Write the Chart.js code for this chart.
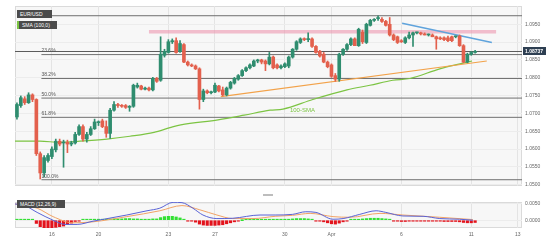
<!DOCTYPE html>
<html>
<head>
<meta charset="utf-8">
<script src="https://cdn.jsdelivr.net/npm/chart.js@4.4.0/dist/chart.umd.min.js"></script>
<style>
    html, body { margin: 0; padding: 0; background: #fff; }
    #wrap { position: relative; width: 548px; height: 245px; overflow: hidden; font-family: "Liberation Sans", Arial, sans-serif; }
    #main { position: absolute; left: 0; top: 0; }
    #macd { position: absolute; left: 0; top: 196px; }
    .tag { position: absolute; left: 17px; height: 8px; line-height: 8px; background: #4b4b4b; color: #fff; font-size: 5px; padding: 0 3px; box-sizing: border-box; }
    .handle { position: absolute; left: 263px; top: 194px; width: 10px; height: 2px; background: #bdbdbd; }
</style>
</head>
<body>
<div id="wrap">
    <canvas id="main" width="548" height="192"></canvas>
    <canvas id="macd" width="548" height="49"></canvas>
    <div class="tag" style="top:10px;width:35px;">EUR/USD</div>
    <div class="tag" style="top:21px;width:40px;border-left:2px solid #7cc443;">SMA (100,0)</div>
    <div class="handle"></div>
    <div class="tag" style="top:200px;width:48px;">MACD (12,26,9)</div>
</div>
<script>
// --- DATA (4H candles, index 0 = Mar 14 12:00) ---
const opens = [1.0690,1.0722,1.0741,1.0730,1.0752,1.0739,1.0587,1.0533,1.0568,1.0579,
    1.0598,1.0622,1.0617,1.0619,1.0614,1.0617,1.0641,1.0663,1.0628,1.0641,
    1.0657,1.0674,1.0679,1.0663,1.0644,1.0709,1.0725,1.0722,1.0722,1.0717,
    1.0720,1.0774,1.0777,1.0768,1.0771,1.0766,1.0798,1.0793,1.0863,1.0871,
    1.0901,1.0904,1.0874,1.0893,1.0844,1.0836,1.0833,1.0825,1.0739,1.0763,
    1.0758,1.0760,1.0777,1.0766,1.0752,1.0771,1.0785,1.0796,1.0806,1.0820,
    1.0828,1.0833,1.0847,1.0850,1.0847,1.0839,1.0858,1.0836,1.0828,1.0831,
    1.0833,1.0858,1.0880,1.0899,1.0909,1.0907,1.0909,1.0888,1.0874,1.0866,
    1.0844,1.0836,1.0806,1.0796,1.0866,1.0880,1.0893,1.0909,1.0890,1.0928,
    1.0899,1.0947,1.0961,1.0966,1.0964,1.0958,1.0950,1.0920,1.0915,1.0904,
    1.0899,1.0912,1.0920,1.0926,1.0926,1.0923,1.0920,1.0920,1.0915,1.0912,
    1.0912,1.0912,1.0915,1.0915,1.0917,1.0890,1.0844,1.0866,1.0871];
const highs = [1.0730,1.0749,1.0747,1.0758,1.0755,1.0741,1.0592,1.0582,1.0587,1.0606,
    1.0628,1.0628,1.0625,1.0625,1.0622,1.0647,1.0668,1.0668,1.0647,1.0663,
    1.0684,1.0679,1.0684,1.0679,1.0714,1.0733,1.0728,1.0725,1.0725,1.0722,
    1.0782,1.0785,1.0779,1.0774,1.0774,1.0801,1.0801,1.0915,1.0880,1.0907,
    1.0909,1.0912,1.0904,1.0896,1.0847,1.0839,1.0836,1.0828,1.0768,1.0766,
    1.0763,1.0785,1.0779,1.0774,1.0774,1.0790,1.0801,1.0809,1.0823,1.0831,
    1.0839,1.0850,1.0852,1.0852,1.0850,1.0871,1.0861,1.0839,1.0836,1.0842,
    1.0861,1.0882,1.0904,1.0912,1.0912,1.0926,1.0912,1.0890,1.0877,1.0871,
    1.0847,1.0839,1.0812,1.0869,1.0882,1.0896,1.0912,1.0912,1.0939,1.0934,
    1.0953,1.0964,1.0966,1.0974,1.0969,1.0961,1.0969,1.0923,1.0917,1.0907,
    1.0915,1.0928,1.0928,1.0928,1.0928,1.0926,1.0923,1.0923,1.0917,1.0915,
    1.0915,1.0917,1.0917,1.0917,1.0920,1.0893,1.0869,1.0874,1.0877];
const lows = [1.0684,1.0717,1.0725,1.0728,1.0733,1.0582,1.0516,1.0522,1.0563,1.0573,
    1.0592,1.0609,1.0549,1.0590,1.0609,1.0614,1.0638,1.0622,1.0619,1.0638,
    1.0655,1.0666,1.0660,1.0633,1.0630,1.0706,1.0717,1.0717,1.0714,1.0706,
    1.0717,1.0771,1.0766,1.0766,1.0763,1.0763,1.0787,1.0790,1.0858,1.0869,
    1.0896,1.0869,1.0871,1.0842,1.0833,1.0831,1.0823,1.0712,1.0733,1.0755,
    1.0755,1.0758,1.0760,1.0749,1.0749,1.0768,1.0782,1.0793,1.0804,1.0817,
    1.0825,1.0831,1.0842,1.0839,1.0820,1.0836,1.0825,1.0825,1.0825,1.0828,
    1.0828,1.0855,1.0877,1.0896,1.0904,1.0901,1.0885,1.0869,1.0858,1.0842,
    1.0828,1.0801,1.0790,1.0790,1.0863,1.0877,1.0890,1.0890,1.0888,1.0896,
    1.0896,1.0945,1.0958,1.0961,1.0955,1.0945,1.0917,1.0904,1.0896,1.0899,
    1.0896,1.0909,1.0888,1.0923,1.0920,1.0920,1.0917,1.0915,1.0880,1.0907,
    1.0904,1.0901,1.0901,1.0912,1.0888,1.0842,1.0842,1.0863,1.0869];
const closes = [1.0725,1.0744,1.0730,1.0752,1.0739,1.0587,1.0533,1.0576,1.0582,1.0600,
    1.0622,1.0614,1.0619,1.0614,1.0617,1.0641,1.0663,1.0628,1.0641,1.0657,
    1.0676,1.0676,1.0663,1.0644,1.0709,1.0725,1.0722,1.0720,1.0717,1.0720,
    1.0779,1.0779,1.0768,1.0771,1.0766,1.0798,1.0790,1.0866,1.0874,1.0901,
    1.0904,1.0871,1.0896,1.0844,1.0836,1.0833,1.0825,1.0739,1.0763,1.0758,
    1.0760,1.0779,1.0763,1.0752,1.0771,1.0787,1.0798,1.0806,1.0820,1.0828,
    1.0836,1.0847,1.0850,1.0844,1.0839,1.0858,1.0828,1.0828,1.0833,1.0839,
    1.0858,1.0880,1.0901,1.0909,1.0907,1.0909,1.0888,1.0871,1.0861,1.0844,
    1.0831,1.0804,1.0796,1.0866,1.0880,1.0893,1.0909,1.0890,1.0936,1.0901,
    1.0950,1.0961,1.0964,1.0966,1.0958,1.0947,1.0920,1.0907,1.0899,1.0901,
    1.0912,1.0920,1.0926,1.0926,1.0923,1.0920,1.0920,1.0915,1.0909,1.0909,
    1.0907,1.0904,1.0904,1.0915,1.0890,1.0844,1.0866,1.0871,1.0874];
const lastPrice = 1.08737;

// 100-SMA, read at a few candle positions
const smaIdx = [-0.5, 5.9, 11.1, 16.2, 23.2, 29.1, 35.3, 39.4, 42.2, 51.8, 58.5, 65.2, 68.5, 76.2, 85, 90.9, 96.8, 101.2, 108.9, 114.1, 117.2];
const smaVal = [1.0622, 1.0622, 1.0619, 1.0622, 1.0628, 1.0636, 1.0647, 1.0660, 1.0668, 1.0682, 1.0695, 1.0709, 1.0712, 1.0739, 1.0766, 1.0779, 1.0793, 1.0798, 1.0825, 1.0839, 1.0847];

// fibonacci levels (price) and their names
const fibPrices = [1.0974, 1.0865, 1.0798, 1.0743, 1.0689, 1.0514];
const fibNames = ['', '23.6%', '38.2%', '50.0%', '61.8%', '100.0%'];
const fibStart = 6.3;

// drawn lines: [startIdx, startPrice, endIdx, endPrice]
const resistBand = [34, 1.0929, 123.4, 1.0929];
const blueLine = [99.2, 1.0953, 122.3, 1.0899];
const orangeLine = [52.5, 1.0747, 121, 1.0847];

// MACD panel
const hist = [0.0002,0.0002,0.0001,0.0001,0.0001,
    -0.0010,-0.0020,-0.0024,-0.0024,-0.0023,-0.0022,-0.0020,-0.0018,-0.0013,-0.0009,-0.0004,
    -0.0001,0.0001,0.0001,0.0002,0.0002,
    0.0003,0.0003,0.0003,0.0004,0.0004,0.0004,0.0004,0.0005,0.0005,
    0.0004,0.0004,0.0003,0.0003,0.0003,0.0004,0.0004,
    0.0008,0.0011,0.0012,0.0012,0.0010,0.0007,0.0003,
    -0.0001,-0.0003,-0.0006,-0.0012,-0.0015,-0.0016,-0.0016,-0.0016,-0.0015,-0.0014,-0.0011,-0.0008,-0.0005,-0.0002,
    0.0000,0.0001,0.0002,0.0002,0.0002,0.0002,0.0001,0.0001,0.0002,0.0001,0.0001,0.0001,
    0.0002,0.0004,0.0005,0.0005,0.0005,0.0004,0.0002,
    -0.0001,-0.0003,-0.0005,-0.0008,-0.0011,-0.0012,-0.0009,-0.0005,-0.0002,
    0.0001,0.0002,0.0003,0.0004,0.0005,0.0006,0.0006,0.0006,0.0005,0.0004,0.0002,
    -0.0001,-0.0003,-0.0004,-0.0004,-0.0003,-0.0003,-0.0003,-0.0003,-0.0003,-0.0003,-0.0003,-0.0003,-0.0003,
    -0.0004,-0.0004,-0.0004,-0.0004,-0.0005,-0.0007,-0.0008,-0.0008,-0.0007];
const macdIdx = [-0.5, 2, 5.2, 9.3, 12.4, 15.5, 19.6, 28.3, 33.5, 36.8, 40.2, 42.5, 45.3, 47.9, 51.5, 55.6, 62.6, 66.5, 71, 74.4, 77, 81.4, 84, 88.3, 92.5, 95, 99.4, 104.6, 108.9, 114, 117.4];
const macdVal = [0.0050, 0.0045, 0.0024, 0.0000, -0.0013, -0.0013, -0.0003, 0.0016, 0.0029, 0.0037, 0.0055, 0.0054, 0.0037, 0.0016, 0.0005, 0.0006, 0.0016, 0.0016, 0.0018, 0.0026, 0.0024, 0.0003, 0.0005, 0.0018, 0.0029, 0.0024, 0.0013, 0.0012, 0.0005, 0.0003, 0.0000];
const sigIdx = [-0.5, 5.2, 9.3, 14.4, 19.6, 28.3, 36.8, 42.5, 47.1, 51.5, 55.6, 60.8, 66.5, 71, 75.5, 81.4, 85.8, 93.5, 99.4, 108.9, 117.4];
const sigVal = [0.0050, 0.0037, 0.0011, -0.0008, -0.0005, 0.0011, 0.0029, 0.0045, 0.0032, 0.0016, 0.0005, 0.0005, 0.0012, 0.0015, 0.0021, 0.0011, 0.0009, 0.0021, 0.0016, 0.0009, 0.0002];

// axes
const tickIdx = [9, 21, 39, 51, 69, 81, 99, 117, 129];
const tickLabels = ['16', '20', '23', '27', '30', 'Apr', '6', '11', '13'];
const yTicks = [1.0500, 1.0550, 1.0600, 1.0650, 1.0700, 1.0750, 1.0800, 1.0850, 1.0900, 1.0950];
const macdTicks = [0, 0.005];

// --- STYLE ---
const UP = '#2f8d6f', DOWN = '#e3604d';
const FONT = '"Liberation Sans", Arial, sans-serif';
Chart.defaults.font.family = FONT;
Chart.defaults.animation = false;

const X_MIN = -0.5, X_MAX = 130.07;

function seg(s) { return [{ x: s[0], y: s[1] }, { x: s[2], y: s[3] }]; }
function lineDs(data, color, width, order, extra) {
    return Object.assign({ type: 'line', data, borderColor: color, borderWidth: width, pointRadius: 0, fill: false, order }, extra || {});
}

const candleColors = closes.map((c, i) => c >= opens[i] ? UP : DOWN);

const panelBg = {
    id: 'panelBg',
    beforeDraw(chart) {
        const { ctx, chartArea: a } = chart;
        ctx.save();
        ctx.fillStyle = '#f7f7f7';
        ctx.fillRect(a.left, a.top, a.right - a.left, a.bottom - a.top);
        ctx.strokeStyle = '#dadada';
        ctx.lineWidth = 1;
        ctx.strokeRect(a.left + 0.5, a.top + 0.5, a.right - a.left - 1, a.bottom - a.top - 1);
        ctx.restore();
    }
};

const mainText = {
    id: 'mainText',
    afterDatasetsDraw(chart) {
        const { ctx, scales: { x, y } } = chart;
        ctx.save();
        ctx.font = '5px ' + FONT;
        ctx.fillStyle = '#555';
        ctx.textBaseline = 'bottom';
        fibPrices.forEach((p, k) => {
            if (fibNames[k]) ctx.fillText(fibNames[k], x.getPixelForValue(fibStart), y.getPixelForValue(p) - 1);
        });
        ctx.font = '6px ' + FONT;
        ctx.fillStyle = '#7cc443';
        ctx.textBaseline = 'middle';
        ctx.fillText('100-SMA', x.getPixelForValue(70.3), y.getPixelForValue(1.0709));
        ctx.restore();
    },
    afterDraw(chart) {
        const { ctx, scales: { y }, chartArea: a } = chart;
        const py = Math.round(y.getPixelForValue(lastPrice));
        ctx.save();
        ctx.fillStyle = '#2e3f52';
        ctx.fillRect(a.right + 1, py - 4, 23, 8);
        ctx.fillStyle = '#fff';
        ctx.font = 'bold 5px ' + FONT;
        ctx.textBaseline = 'middle';
        ctx.fillText(lastPrice.toFixed(5), a.right + 3, py + 0.5);
        ctx.restore();
    }
};

const idx = closes.map((c, i) => i);

new Chart(document.getElementById('main'), {
    type: 'bar',
    data: {
        datasets: [
            { type: 'bar', data: idx.map(i => ({ x: i, y: [opens[i], closes[i]] })), backgroundColor: candleColors, barThickness: 3, minBarLength: 1, grouped: false, order: 0 },
            { type: 'bar', data: idx.map(i => ({ x: i, y: [lows[i], highs[i]] })), backgroundColor: candleColors, barThickness: 1, grouped: false, order: 1 },
            lineDs(seg(orangeLine), '#f2a24a', 1.2, 2),
            lineDs(seg(blueLine), '#5fa3dc', 1.4, 2),
            lineDs(smaIdx.map((v, k) => ({ x: v, y: smaVal[k] })), '#7cc443', 1.2, 3, { cubicInterpolationMode: 'monotone' }),
            lineDs(seg(resistBand), 'rgba(236,150,175,0.6)', 3.5, 4),
            lineDs([{ x: X_MIN, y: lastPrice }, { x: X_MAX, y: lastPrice }], '#5a5a5a', 1, 5),
            ...fibPrices.map(p => lineDs([{ x: fibStart, y: p }, { x: X_MAX, y: p }], '#707070', 1, 5))
        ]
    },
    options: {
        responsive: false,
        layout: { padding: { left: 15, top: 5, right: 0, bottom: 0 } },
        plugins: { legend: { display: false }, tooltip: { enabled: false } },
        scales: {
            x: {
                type: 'linear', min: X_MIN, max: X_MAX, offset: false,
                grid: { color: '#e4e4e4', drawTicks: false, offset: false },
                border: { display: false },
                ticks: { display: false },
                afterBuildTicks: s => { s.ticks = tickIdx.map(v => ({ value: v })); },
                afterFit: s => { s.height = 0; }
            },
            y: {
                position: 'right', min: 1.04964, max: 1.10013,
                grid: { color: '#ececec', drawTicks: false },
                border: { display: false },
                afterBuildTicks: s => { s.ticks = yTicks.map(v => ({ value: v })); },
                ticks: { font: { size: 5 }, color: '#666', padding: 3, callback: v => Number(v).toFixed(4) },
                afterFit: s => { s.width = 26; }
            }
        }
    },
    plugins: [panelBg, mainText]
});

new Chart(document.getElementById('macd'), {
    type: 'bar',
    data: {
        datasets: [
            lineDs(macdIdx.map((v, k) => ({ x: v, y: macdVal[k] })), '#5a63d6', 1, 0, { cubicInterpolationMode: 'monotone' }),
            lineDs(sigIdx.map((v, k) => ({ x: v, y: sigVal[k] })), '#f2a366', 1, 1, { cubicInterpolationMode: 'monotone' }),
            { type: 'bar', data: hist.map((v, i) => ({ x: i, y: v })), backgroundColor: hist.map(v => v >= 0 ? '#33e033' : '#e3131c'), barThickness: 2.5, minBarLength: 1, order: 2 }
        ]
    },
    options: {
        responsive: false,
        layout: { padding: { left: 15, top: 2, right: 0, bottom: 0 } },
        plugins: { legend: { display: false }, tooltip: { enabled: false } },
        scales: {
            x: {
                type: 'linear', min: X_MIN, max: X_MAX, offset: false,
                grid: { color: '#e4e4e4', drawTicks: false, offset: false },
                border: { display: false },
                afterBuildTicks: s => { s.ticks = tickIdx.map(v => ({ value: v })); },
                ticks: { font: { size: 5 }, color: '#666', padding: 4, maxRotation: 0, autoSkip: false,
                    callback: v => tickLabels[tickIdx.indexOf(v)] },
                afterFit: s => { s.height = 17; }
            },
            y: {
                position: 'right', min: -0.0024, max: 0.0056,
                grid: { color: '#ececec', drawTicks: false },
                border: { display: false },
                afterBuildTicks: s => { s.ticks = macdTicks.map(v => ({ value: v })); },
                ticks: { font: { size: 5 }, color: '#666', padding: 3, callback: v => Number(v).toFixed(4) },
                afterFit: s => { s.width = 26; }
            }
        }
    },
    plugins: [panelBg]
});
</script>
</body>
</html>
